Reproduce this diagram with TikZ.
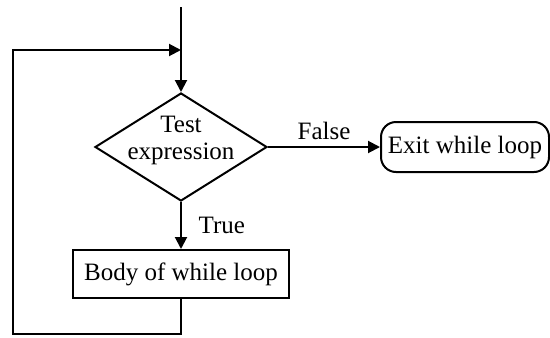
\documentclass[tikz,border=0pt]{standalone}
\usepackage{fontspec}
\setmainfont{Liberation Serif}
\usetikzlibrary{shapes.geometric,arrows.meta}

\begin{document}
\begin{tikzpicture}[x=0.5pt,y=-0.5pt,line width=1pt,font=\fontsize{12.5}{13.5}\selectfont,
		flow/.style={-{Triangle[length=6pt,width=6pt]}},
		testbox/.style={diamond,draw,inner sep=0pt,minimum width=86pt,minimum height=54pt},
		bodybox/.style={rectangle,draw,minimum width=108pt,minimum height=24pt},
		exitbox/.style={rectangle,draw,rounded corners=7.5pt,minimum width=84pt,minimum height=25pt}]
		\useasboundingbox (0,0) rectangle (550,337);
		\node[testbox] (test) at (181,147) {};
		\node[align=center,inner sep=0pt] (testtext) at (181,140) {Test\\expression};
		\node[bodybox] (body) at (181,274) {Body of while loop};
		\node[exitbox] (exit) at (465,147) {Exit while loop};
		\coordinate (top) at (181,7);
		\coordinate (join) at (181,50);
		\coordinate (corner) at (13,334);
		\draw[flow] (top) -- (test.north);
		\draw[flow] (test.east) -- node[above=0pt] (false) {False} (exit.west);
		\draw[flow] (test.south) -- node[right=5pt] (true) {True} (body.north);
		\draw[flow] (body.south) |- (corner) |- (join);
	\end{tikzpicture}
\end{document}
